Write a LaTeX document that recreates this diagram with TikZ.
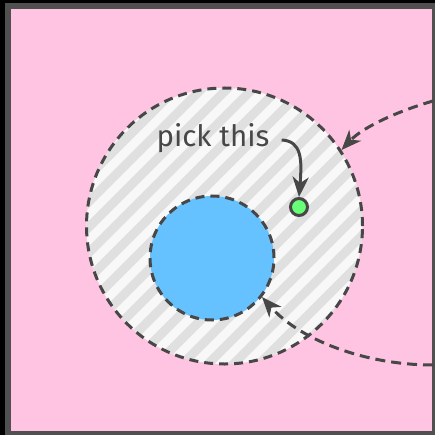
\documentclass[tikz,border=0pt]{standalone}
\usepackage{fontspec}
\setmainfont{Fira Sans}
\usetikzlibrary{arrows.meta}
\definecolor{pinkbg}{HTML}{FFC4E1}
\definecolor{framegray}{HTML}{505050}
\definecolor{ink}{HTML}{474747}
\definecolor{blueF}{HTML}{66C2FF}
\definecolor{greenF}{HTML}{66FF77}
\definecolor{stripeA}{HTML}{F8F8F8}
\definecolor{stripeB}{HTML}{E0E0E0}
\tikzset{
  ringline/.style={draw=ink, line width=3pt, dash pattern=on 9pt off 6pt},
  pointer/.style={draw=ink, line width=3pt, -{Stealth[length=20pt,width=16pt,inset=6pt]}},
  dpointer/.style={pointer, dash pattern=on 10pt off 6pt},
}
\begin{document}
\begin{tikzpicture}[x=1pt,y=-1pt]
\useasboundingbox (0,0) rectangle (435,435);
\fill[black] (0,0) rectangle (435,435);
\fill[framegray] (5,3) rectangle (435,435);
\fill[pinkbg] (11,9) rectangle (432,431);
% outer ring
\begin{scope}
  \clip (224.5,226) circle[radius=138];
  \fill[stripeA] (80,80) rectangle (370,370);
  \foreach \k in {0,...,30} {
    \pgfmathsetmacro{\c}{264.8+\k*25.6}
    \draw[stripeB, line width=9pt] (\c-20,20) -- (20,\c-20);
  }
\end{scope}
\node[circle, minimum size=276pt, inner sep=0pt, ringline] (outer) at (224.5,226) {};
\node[circle, minimum size=124pt, inner sep=0pt, ringline, fill=blueF] (inner) at (212,258) {};
\node[circle, minimum size=17pt, inner sep=0pt, draw=ink, line width=3pt, fill=greenF] (dot) at (299,207) {};
\node[text=ink, font=\fontsize{29.5}{31}\selectfont, inner sep=2pt] (label) at (213,138) {pick this};
\coordinate (s1) at (433,101);
\coordinate (s2) at (433,365);
\draw[pointer] ([xshift=10pt,yshift=-2pt]label.east) .. controls (302,141) and (302,160) .. (dot.north);
\draw[dpointer] (s1) .. controls (395,112) and (362,128) .. (outer.33);
\draw[dpointer] (s2) .. controls (365,365) and (300,340) .. (inner.-38);
\end{tikzpicture}
\end{document}
